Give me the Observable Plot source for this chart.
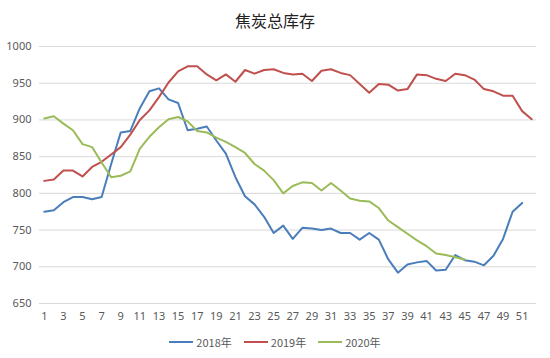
<!DOCTYPE html>
<html><head><meta charset="utf-8">
<script src="https://cdn.jsdelivr.net/npm/d3@7"></script>
<script src="https://cdn.jsdelivr.net/npm/@observablehq/plot@0.6"></script>
<style>
body{margin:0;background:#fff;font-family:"Noto Sans CJK SC","Noto Sans",sans-serif;}
#wrap{width:550px;height:358px;position:relative;}
#title{height:34px;line-height:40px;text-align:center;font-size:16px;color:#222;}
#legend{height:28px;display:flex;justify-content:center;align-items:center;font-size:11px;color:#595959;gap:0;margin-top:-2px}
.li{display:flex;align-items:center;margin:0 6px;}
.sw{display:inline-block;width:24px;height:2px;margin-right:3px;}
</style></head>
<body><div id="wrap"><div id="title">焦炭总库存</div><div id="chart"></div><div id="legend"></div></div>
<script>
const seriesNames = ["2018年","2019年","2020年"];
const colors = ["#4A7EBB","#C0504D","#9BBB59"];
const s2018 = [775,777,788,795,795,792,795,840,883,885,916,939,943,928,923,886,888,891,872,854,822,796,785,768,746,756,738,753,752,750,752,746,746,737,746,737,710,692,703,706,708,695,696,716,709,707,702,715,738,775,787];
const s2019 = [817,819,831,831,823,836,843,853,863,880,900,913,931,951,966,973,973,962,954,962,952,968,963,968,969,964,962,963,953,967,969,964,961,949,937,949,948,940,942,962,961,956,953,963,961,955,942,939,933,933,912,901];
const s2020 = [902,905,895,886,867,863,842,822,824,830,861,877,890,901,904,898,885,883,876,870,863,855,840,831,818,800,810,815,814,804,814,804,793,790,789,780,763,754,745,736,728,718,716,713,710];
const yTicks = [650,700,750,800,850,900,950,1000];
const xTicks = d3.range(1,52,2);

const data = [];
[s2018,s2019,s2020].forEach((arr,i)=>arr.forEach((v,j)=>data.push({week:j+1,value:v,series:seriesNames[i]})));

const chart = Plot.plot({
  width:550,height:296,
  marginTop:12,marginBottom:27,marginLeft:39,marginRight:14,
  style:{fontFamily:"Noto Sans, sans-serif",fontSize:"11px",color:"#595959",background:"#fff"},
  x:{type:"linear",domain:[0.5,52.5],label:null},
  y:{domain:[650,1000],label:null},
  color:{domain:seriesNames,range:colors},
  marks:[
    Plot.gridY(yTicks,{stroke:"#d9d9d9",strokeOpacity:1}),
    Plot.axisX({ticks:xTicks,tickSize:0,tickPadding:9,label:null,tickFormat:d=>String(d)}),
    Plot.axisY({ticks:yTicks,tickSize:0,tickPadding:8,label:null,tickFormat:d=>String(d)}),
    Plot.line(data,{x:"week",y:"value",z:"series",stroke:"series",strokeWidth:2})
  ]
});
document.getElementById("chart").appendChild(chart);
const lg = document.getElementById("legend");
seriesNames.forEach((n,i)=>{
  const d=document.createElement("div");d.className="li";
  d.innerHTML=`<span class="sw" style="background:${colors[i]}"></span><span>${n}</span>`;
  lg.appendChild(d);
});
</script></body></html>
